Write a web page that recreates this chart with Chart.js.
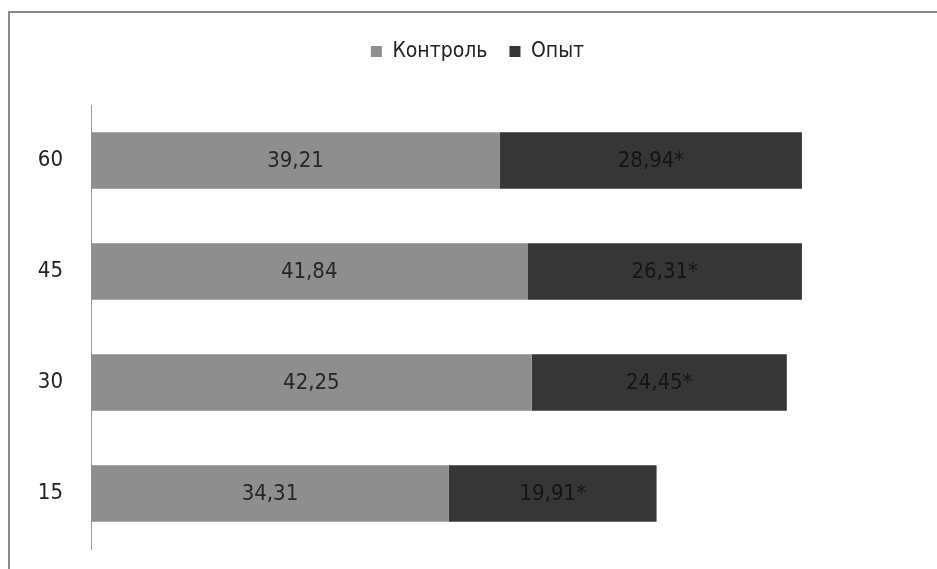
<!DOCTYPE html>
<html>
<head>
<meta charset="utf-8">
<script src="https://cdn.jsdelivr.net/npm/chart.js@4"></script>
<style>
  html, body { margin: 0; padding: 0; background: #fff; }
  #wrap { position: relative; width: 937px; height: 569px; overflow: hidden; }
  #frame {
    position: absolute; left: 8px; top: 11px; width: 940px; height: 600px;
    border-top: 2px solid #8a8a8a; border-left: 2px solid #8a8a8a;
  }
  canvas { position: absolute; left: 0; top: 0; }
</style>
</head>
<body>
<div id="wrap">
  <div id="frame"></div>
  <canvas id="barChart" width="937" height="569"></canvas>
</div>
<script>
const days = ['60', '45', '30', '15'];
const control = [39.21, 41.84, 42.25, 34.31];
const experiment = [28.94, 26.31, 24.45, 19.91];
const marked = [true, true, true, true]; // значимые отличия от контроля

const FONT = '"Liberation Sans Narrow", "DejaVu Sans Condensed", "DejaVu Sans", sans-serif';

// подписи значений в центре каждого сегмента
const valueLabels = {
    id: 'valueLabels',
    afterDatasetsDraw(chart) {
        const ctx = chart.ctx;
        ctx.save();
        ctx.font = '22px ' + FONT;
        ctx.textAlign = 'center';
        ctx.textBaseline = 'middle';
        chart.data.datasets.forEach((ds, di) => {
            const meta = chart.getDatasetMeta(di);
            meta.data.forEach((bar, i) => {
                let text = ds.data[i].toFixed(2).replace('.', ',');
                if (di === 1 && marked[i]) text += '*';
                ctx.fillStyle = di === 0 ? '#262626' : '#141414';
                ctx.fillText(text, (bar.x + bar.base) / 2, bar.y + 1);
            });
        });
        ctx.restore();
    }
};

// место под легендой до начала области построения
const legendGap = {
    id: 'legendGap',
    beforeInit(chart) {
        const fit = chart.legend.fit;
        chart.legend.fit = function () {
            fit.bind(chart.legend)();
            this.height = 86;
        };
    }
};

const ctx = document.getElementById('barChart').getContext('2d');

const barChart = new Chart(ctx, {
    type: 'bar',
    data: {
        labels: days,
        datasets: [{
            label: 'Контроль',
            data: control,
            backgroundColor: '#8e8e8e',
            barPercentage: 0.51,
            categoryPercentage: 1
        }, {
            label: 'Опыт',
            data: experiment,
            backgroundColor: '#363636',
            barPercentage: 0.51,
            categoryPercentage: 1
        }]
    },
    options: {
        responsive: false,
        animation: false,
        indexAxis: 'y',
        layout: {
            padding: { top: 19, right: 0, bottom: 20, left: 18 }
        },
        plugins: {
            tooltip: { enabled: false },
            legend: {
                position: 'top',
                labels: {
                    boxWidth: 11,
                    boxHeight: 11,
                    padding: 22,
                    color: '#222',
                    font: { family: FONT, size: 21 }
                }
            }
        },
        scales: {
            x: {
                stacked: true,
                display: false,
                min: 0,
                max: 81.1
            },
            y: {
                stacked: true,
                grid: { display: false },
                border: { display: true, color: '#9a9a9a', width: 1 },
                ticks: {
                    padding: 20,
                    color: '#222',
                    font: { family: FONT, size: 22 }
                },
                afterFit(scale) {
                    scale.width = 73;
                    // ось не должна сдвигать низ области построения
                    scale.paddingTop = 0;
                    scale.paddingBottom = 0;
                }
            }
        }
    },
    plugins: [valueLabels, legendGap]
});
</script>
</body>
</html>
